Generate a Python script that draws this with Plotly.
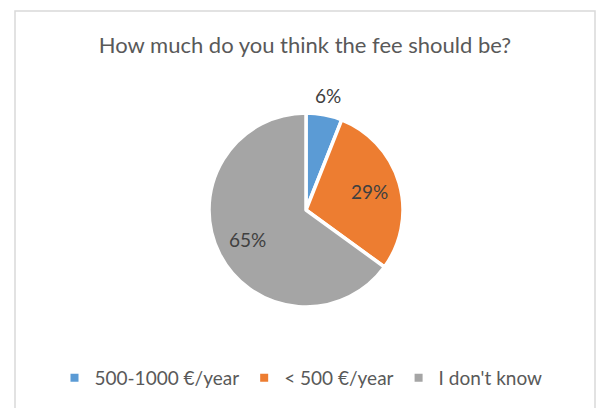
import math
import plotly.graph_objects as go

# Survey answers: share of respondents per fee option
categories = ["500-1000 €/year", "< 500 €/year", "I don't know"]
shares = [6, 29, 65]
colors = ["#5B9BD5", "#ED7D31", "#A5A5A5"]
label_outside = [True, False, False]
title_text = "How much do you think the fee should be?"

W, H = 597, 408
FONT = "Lato"

# Pie geometry in pixels
CX, CY, R = 306, 210, 97

fig = go.Figure()

fig.add_trace(go.Pie(
    labels=categories,
    values=shares,
    sort=False,
    direction="clockwise",
    rotation=0,
    marker=dict(colors=colors, line=dict(color="white", width=3.5)),
    textinfo="none",
    domain=dict(x=[(CX - R) / W, (CX + R) / W],
                y=[(H - CY - R) / H, (H - CY + R) / H]),
    showlegend=False,
    hoverinfo="label+percent",
))

# Percentage labels placed along each slice's mid-angle
total = sum(shares)
cum = 0
for val, outside in zip(shares, label_outside):
    mid = (cum + val / 2) / total * 2 * math.pi
    cum += val
    r = R * (1.2 if outside else 0.68)
    px = CX + r * math.sin(mid)
    py = CY - r * math.cos(mid)
    fig.add_annotation(
        x=px / W, y=1 - py / H, xref="paper", yref="paper",
        text=f"{round(val / total * 100)}%", showarrow=False,
        xanchor="center", yanchor="middle",
        font=dict(family=FONT, size=19, color="#404040"),
    )

# Legend entries with small square swatches
for name, col in zip(categories, colors):
    fig.add_trace(go.Scatter(
        x=[None], y=[None], mode="markers", name=name,
        marker=dict(symbol="square", size=8, color=col),
        showlegend=True,
    ))

# Light grey chart-area frame
fig.add_shape(type="rect", xref="paper", yref="paper",
              x0=15 / W, x1=595 / W, y0=-0.05, y1=1 - 11 / H,
              line=dict(color="#D9D9D9", width=1.5), fillcolor="rgba(0,0,0,0)",
              layer="below")

fig.update_layout(
    width=W, height=H,
    margin=dict(l=0, r=0, t=0, b=0),
    paper_bgcolor="white", plot_bgcolor="white",
    title=dict(text=title_text, x=305 / W, xanchor="center",
               y=1 - 45 / H, yanchor="middle",
               font=dict(family=FONT, size=22, color="#595959")),
    xaxis=dict(visible=False), yaxis=dict(visible=False),
    legend=dict(orientation="h", x=301 / W, xanchor="center",
                y=1 - 378 / H, yanchor="middle",
                font=dict(family=FONT, size=19, color="#595959"),
                bgcolor="rgba(0,0,0,0)"),
)

fig.write_html("out.html")
